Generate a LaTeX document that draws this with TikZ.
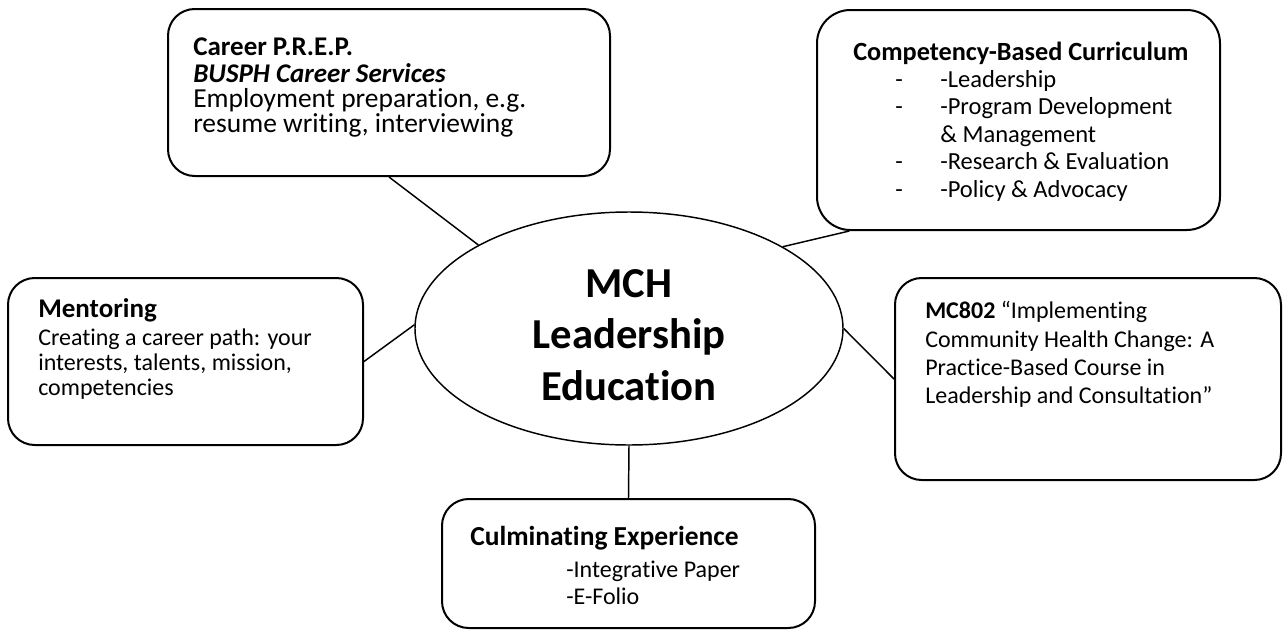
\documentclass[tikz,border=0pt]{standalone}
\usepackage{fontspec}
\setmainfont{Carlito}[Ligatures={NoCommon}]
\usetikzlibrary{shapes.geometric}
\newcommand\szbody{\fontsize{20.25pt}{24pt}\selectfont}
\newcommand\szcar{\fontsize{20.6pt}{24pt}\selectfont}
\newcommand\szcomp{\fontsize{19.7pt}{24pt}\selectfont}
\newcommand\szitem{\fontsize{18.4pt}{22pt}\selectfont}
\newcommand\szsmall{\fontsize{18pt}{22pt}\selectfont}
\newcommand\szbig{\fontsize{32pt}{38pt}\selectfont}
\begin{document}
\begin{tikzpicture}[x=0.75pt,y=-0.75pt,
  box/.style={draw, line width=1.5pt, rounded corners=20pt, inner sep=0pt, rectangle},
  lbl/.style={anchor=base west, inner sep=0pt},
  clbl/.style={anchor=base, inner sep=0pt},
  link/.style={line width=1.1pt}]
\useasboundingbox (0,0) rectangle (1283,629);

% boxes
\node[box, minimum width=331.5pt, minimum height=125.25pt] (career) at (389,92.5) {};
\node[box, rounded corners=25pt, minimum width=302.25pt, minimum height=165pt] (comp) at (1018.5,120) {};
\node[box, minimum width=266.25pt, minimum height=125.25pt] (ment) at (185.5,361.5) {};
\node[box, minimum width=289.5pt, minimum height=151.5pt] (mc) at (1088,379) {};
\node[box, minimum width=279.75pt, minimum height=96.75pt] (cul) at (628.5,563.5) {};
\node[draw, ellipse, line width=1.1pt, minimum width=321pt, minimum height=174.75pt, inner sep=0pt] (hub) at (629,328.5) {};

% connectors
\draw[link] (career.south) -- (hub.151.1);
\draw[link] ([xshift=25pt]comp.south west) -- (hub.28.9);
\draw[link] (ment.east) -- (hub.179);
\draw[link] (mc.west) -- (hub.0);
\draw[link] (cul.north) -- (hub.south);

% centre text
\node[clbl] (h1) at (629,297) {\szbig\bfseries MCH};
\node[clbl] (h2) at (629,348) {\szbig\bfseries Leadership};
\node[clbl] (h3) at (629,400) {\szbig\bfseries Education};

% career
\node[lbl] (c1) at (193,55) {\szbody\bfseries Career P.R.E.P.};
\node[lbl] (c2) at (193,82) {\szbody\bfseries\itshape BUSPH Career Services};
\node[lbl] (c3) at (193,107) {\szcar Employment preparation, e.g.};
\node[lbl] (c4) at (193,132) {\szcar resume writing, interviewing};

% competency
\node[lbl] (k0) at (853,60) {\szcomp\bfseries Competency-Based Curriculum};
\node[lbl] (kd1) at (895,87) {\szitem -};
\node[lbl] (k1) at (940,87) {\szitem -Leadership};
\node[lbl] (kd2) at (895,114) {\szitem -};
\node[lbl] (k2) at (940,114) {\szitem -Program Development};
\node[lbl] (k3) at (940,142) {\szitem \& Management};
\node[lbl] (kd4) at (895,169) {\szitem -};
\node[lbl] (k4) at (940,169) {\szitem -Research \& Evaluation};
\node[lbl] (kd5) at (895,197) {\szitem -};
\node[lbl] (k5) at (940,197) {\szitem -Policy \& Advocacy};

% mentoring
\node[lbl] (m0) at (38,317) {\szbody\bfseries Mentoring};
\node[lbl] (m1) at (38,345) {\szsmall Creating a career path: your};
\node[lbl] (m2) at (38,370) {\szsmall interests, talents, mission,};
\node[lbl] (m3) at (38,395) {\szsmall competencies};

% MC802
\node[lbl] (p1) at (925,318) {\szsmall\textbf{MC802} “Implementing};
\node[lbl] (p2) at (925,347) {\szsmall Community Health Change: A};
\node[lbl] (p3) at (925,375) {\szsmall Practice-Based Course in};
\node[lbl] (p4) at (925,403) {\szsmall Leadership and Consultation”};

% culminating
\node[lbl] (u0) at (470,545) {\szcar\bfseries Culminating Experience};
\node[lbl] (u1) at (566,577) {\szsmall -Integrative Paper};
\node[lbl] (u2) at (566,604) {\szsmall -E-Folio};
\end{tikzpicture}
\end{document}
